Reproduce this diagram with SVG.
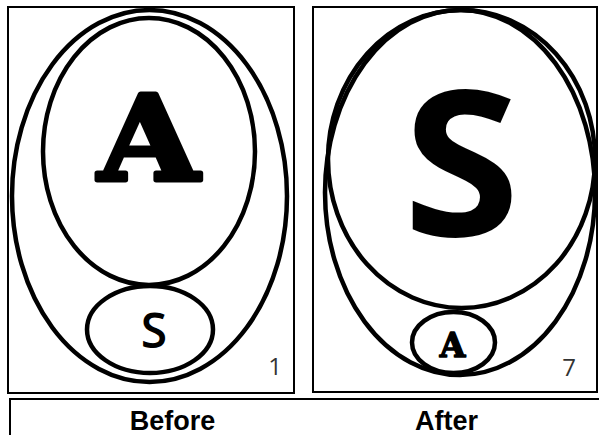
<svg xmlns="http://www.w3.org/2000/svg" width="599" height="435" viewBox="0 0 599 435">
<style>
.frame{fill:#fff;stroke:#000;stroke-width:2}
.ell{fill:none;stroke:#000;stroke-width:4.5}
.cooper{font-family:"DejaVu Serif",serif;font-weight:bold;text-anchor:middle;fill:#000;stroke:#000;stroke-linejoin:round}
.sans{font-family:"Open Sans","Noto Sans",sans-serif;text-anchor:middle;fill:#000}
.num{font-family:"Open Sans","Noto Sans",sans-serif;font-size:24px;fill:#333;text-anchor:middle}
.label{font-family:"Liberation Sans",Arial,sans-serif;font-weight:bold;font-size:27px;text-anchor:middle;fill:#000}
</style>
<rect width="599" height="435" fill="#fff"/>
<g id="before-panel">
<rect class="frame" x="8" y="7" width="286" height="386"/>
<ellipse class="ell" cx="149.5" cy="196" rx="137.5" ry="186"/>
<ellipse class="ell" cx="149" cy="151.5" rx="106" ry="133.5"/>
<ellipse class="ell" cx="150" cy="329.5" rx="63" ry="43.5"/>
<text class="cooper" x="0" y="0" font-size="118" stroke-width="5" transform="translate(148.5,180) scale(1.1,1)">A</text>
<text class="sans" x="154" y="348" font-size="48" font-weight="600">S</text>
<text class="num" x="275" y="375">1</text>
</g>
<g id="after-panel">
<rect class="frame" x="313" y="7" width="284" height="385"/>
<ellipse class="ell" cx="460" cy="192.5" rx="135" ry="182.5"/>
<ellipse class="ell" cx="461.5" cy="159" rx="133.5" ry="149"/>
<ellipse class="ell" cx="453.5" cy="342.5" rx="41.5" ry="30.5"/>
<text class="sans" x="0" y="0" font-size="202" font-weight="bold" transform="translate(461.5,236) scale(1.05,1)">S</text>
<text class="cooper" x="452.5" y="357" font-size="33" stroke-width="1.5">A</text>
<text class="num" x="569" y="376">7</text>
</g>
<g id="caption">
<rect class="frame" x="10" y="399" width="600" height="50"/>
<text class="label" x="172.5" y="430">Before</text>
<text class="label" x="446.5" y="430">After</text>
</g>
<g id="connectors"/>
</svg>
